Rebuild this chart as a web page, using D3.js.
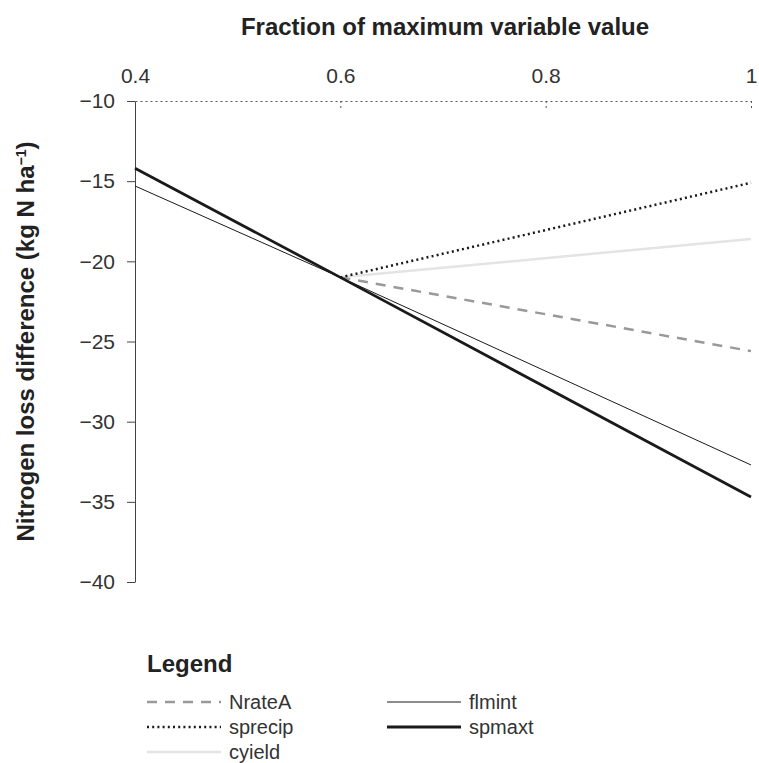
<!DOCTYPE html>
<html lang="en">
<head>
    <meta charset="utf-8">
    <script src="https://cdn.jsdelivr.net/npm/d3@7"></script>
    <style type="text/css">
        body { margin: 0; background: #fff; }
        text { font-family: "Liberation Sans", Arial, sans-serif; fill: #222; }
        .tick text { font-size: 21px; fill: #333; }
    </style>
</head>
<body>
<script>
    // data
    var xValues = [0.4, 0.6, 1];
    var xTicks = [0.4, 0.6, 0.8, 1];
    var yTicks = [-10, -15, -20, -25, -30, -35, -40];

    var nrateA = [null, -21.0, -25.6];
    var sprecip = [null, -21.0, -15.1];
    var cyield = [null, -21.0, -18.6];
    var flmint = [-15.3, -21.0, -32.7];
    var spmaxt = [-14.2, -21.0, -34.7];

    var seriesNames = ['NrateA', 'sprecip', 'cyield', 'flmint', 'spmaxt'];
    var seriesValues = [nrateA, sprecip, cyield, flmint, spmaxt];

    var styles = {
        NrateA: { color: '#999999', width: 2.5, dash: '10,8' },
        sprecip: { color: '#1a1a1a', width: 2.5, dash: '2,3.2' },
        cyield: { color: '#e4e4e4', width: 2.5, dash: null },
        flmint: { color: '#1a1a1a', width: 1, dash: null },
        spmaxt: { color: '#1a1a1a', width: 2.8, dash: null }
    };

    var width = 759, height = 763;

    var svg = d3.select('body')
            .append('svg')
            .attr('width', width)
            .attr('height', height);

    var x = d3.scaleLinear().domain([0.4, 1]).range([135, 751]);
    var y = d3.scaleLinear().domain([-10, -40]).range([101, 582]);

    // top axis, dotted
    var xAxis = svg.append('g')
            .attr('transform', 'translate(0,' + y(-10) + ')')
            .call(d3.axisTop(x)
                    .tickValues(xTicks)
                    .tickSizeInner(-10)
                    .tickSizeOuter(0)
                    .tickPadding(18)
                    .tickFormat(function (d) { return d === 1 ? '1' : d3.format('.1f')(d); }));
    xAxis.select('.domain')
            .attr('stroke', '#555')
            .attr('stroke-dasharray', '2,3');
    xAxis.selectAll('.tick line')
            .attr('stroke', '#555')
            .attr('stroke-dasharray', '2,3')
            .filter(function (d) { return d === 0.4; })
            .remove();

    // left axis
    var yAxis = svg.append('g')
            .attr('transform', 'translate(' + x(0.4) + ',0)')
            .call(d3.axisLeft(y)
                    .tickValues(yTicks)
                    .tickSizeInner(8)
                    .tickSizeOuter(0)
                    .tickPadding(12)
                    .tickFormat(d3.format('d')));
    yAxis.select('.domain').attr('stroke', '#444');
    yAxis.selectAll('.tick line').attr('stroke', '#444');

    // axis titles
    svg.append('text')
            .attr('x', 445)
            .attr('y', 35)
            .attr('text-anchor', 'middle')
            .style('font-size', '24px')
            .style('font-weight', 'bold')
            .text('Fraction of maximum variable value');

    var yTitle = svg.append('text')
            .attr('transform', 'translate(34,' + ((y(-10) + y(-40)) / 2) + ') rotate(-90)')
            .attr('text-anchor', 'middle')
            .style('font-size', '24px')
            .style('font-weight', 'bold');
    yTitle.append('tspan').text('Nitrogen loss difference (kg N ha');
    yTitle.append('tspan')
            .attr('baseline-shift', 'super')
            .style('font-size', '14px')
            .text('\u22121');
    yTitle.append('tspan').text(')');

    // series lines
    var line = d3.line()
            .defined(function (d) { return d[1] !== null; })
            .x(function (d) { return x(d[0]); })
            .y(function (d) { return y(d[1]); });

    var order = ['cyield', 'NrateA', 'sprecip', 'flmint', 'spmaxt'];
    order.forEach(function (name) {
        var vals = seriesValues[seriesNames.indexOf(name)];
        var pts = xValues.map(function (xv, i) { return [xv, vals[i]]; });
        var st = styles[name];
        svg.append('path')
                .datum(pts)
                .attr('d', line)
                .attr('fill', 'none')
                .attr('stroke', st.color)
                .attr('stroke-width', st.width)
                .attr('stroke-dasharray', st.dash);
    });

    // legend
    svg.append('text')
            .attr('x', 147)
            .attr('y', 672)
            .style('font-size', '24px')
            .style('font-weight', 'bold')
            .text('Legend');

    var legendPos = {
        NrateA: [147, 702], sprecip: [147, 727], cyield: [147, 752],
        flmint: [387, 702], spmaxt: [387, 727]
    };

    seriesNames.forEach(function (name) {
        var p = legendPos[name], st = styles[name];
        var g = svg.append('g').attr('transform', 'translate(' + p[0] + ',' + p[1] + ')');
        g.append('line')
                .attr('x1', 0).attr('x2', 74)
                .attr('y1', 0).attr('y2', 0)
                .attr('stroke', st.color)
                .attr('stroke-width', st.width)
                .attr('stroke-dasharray', st.dash);
        g.append('text')
                .attr('x', 82)
                .attr('y', 7)
                .style('font-size', '20px')
                .style('fill', '#333')
                .text(name);
    });
</script>
</body>
</html>
